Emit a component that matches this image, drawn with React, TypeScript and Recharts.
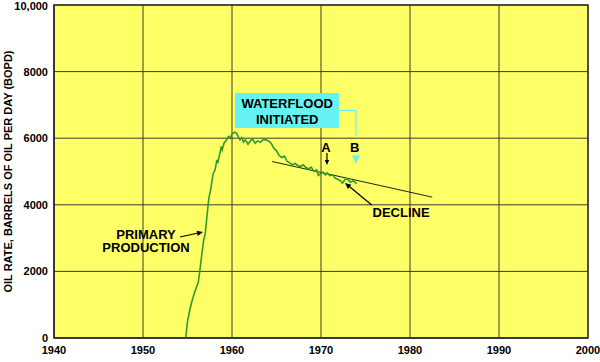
import React from 'react';
import {
  LineChart,
  Line,
  XAxis,
  YAxis,
  CartesianGrid,
  ReferenceLine,
  ReferenceArea,
  ReferenceDot,
} from 'recharts';

// oil rate history (BOPD)
const years = [
  1954.8, 1955.0, 1955.3, 1955.6, 1955.9, 1956.1, 1956.2, 1956.4, 1956.6, 1956.8, 1957.0,
  1957.2, 1957.4, 1957.6, 1957.8, 1957.9, 1958.1, 1958.3, 1958.4, 1958.6, 1958.8,
  1958.9, 1959.1, 1959.4, 1959.6, 1959.8, 1960.0, 1960.3, 1960.5, 1960.7, 1960.9,
  1961.1, 1961.3, 1961.5, 1961.8, 1962.0, 1962.3, 1962.6, 1962.9, 1963.2, 1963.5,
  1963.8, 1964.1, 1964.4, 1964.7, 1965.0, 1965.3, 1965.6, 1965.9, 1966.2, 1966.5,
  1966.8, 1967.1, 1967.4, 1967.7, 1968.0, 1968.3, 1968.6, 1968.9, 1969.2, 1969.5,
  1969.7, 1969.9, 1970.2, 1970.5, 1970.7, 1971.0, 1971.3, 1971.6, 1971.9, 1972.2,
  1972.4, 1972.7, 1973.0, 1973.3, 1973.6, 1973.9, 1974.0,
];
const rates = [
  0, 500, 900, 1200, 1450, 1600, 1650, 2050, 2500, 2900, 3150,
  3700, 4200, 4450, 4800, 4950, 5050, 5350, 5250, 5500, 5750,
  5650, 5850, 5950, 6050, 6000, 6120, 6180, 6150, 6050, 5950,
  6020, 5880, 5950, 5820, 5900, 5980, 5850, 5920, 5880, 5960,
  5950, 5920, 5850, 5700, 5620, 5480, 5420, 5460, 5300, 5260,
  5200, 5240, 5180, 5150, 5200, 5120, 5080, 5130, 5000, 5050,
  4880, 4920, 4980, 4900, 4960, 4880, 4900, 4800, 4760, 4720,
  4650, 4760, 4780, 4680, 4720, 4660, 4630,
];

// straight decline trend
const declineYears = [1964.5, 1982.5];
const declineRates = [5300, 4230];

const xTicks = [1940, 1950, 1960, 1970, 1980, 1990, 2000];
const yTicks = [0, 2000, 4000, 6000, 8000, 10000];

const production = years.map((year, i) => ({ year, rate: rates[i] }));
const decline = declineYears.map((year, i) => ({ year, rate: declineRates[i] }));

const FONT = '"Liberation Sans", Arial, Helvetica, sans-serif';
const CYAN = '#66F2F2';

const arrowShape = (color: string, head = 6) => (props: any) => {
  const { x1, y1, x2, y2 } = props;
  const a = Math.atan2(y2 - y1, x2 - x1);
  const w = head * 0.45;
  const bx = x2 - head * Math.cos(a);
  const by = y2 - head * Math.sin(a);
  const pts = [
    `${x2},${y2}`,
    `${bx + w * Math.sin(a)},${by - w * Math.cos(a)}`,
    `${bx - w * Math.sin(a)},${by + w * Math.cos(a)}`,
  ].join(' ');
  return (
    <g>
      <line x1={x1} y1={y1} x2={bx} y2={by} stroke={color} strokeWidth={1.2} />
      <polygon points={pts} fill={color} />
    </g>
  );
};

const plainLine = (color: string) => (props: any) => (
  <line x1={props.x1} y1={props.y1} x2={props.x2} y2={props.y2} stroke={color} strokeWidth={1.2} />
);

const textShape = (value: string) => (p: any) => (
  <text
    x={p.cx}
    y={p.cy}
    textAnchor="middle"
    dominantBaseline="central"
    fontFamily={FONT}
    fontWeight="bold"
    fontSize={13}
    fill="#000"
  >
    {value}
  </text>
);

const cyanHead = (p: any) => (
  <polygon
    points={`${p.cx - 4},${p.cy - 4} ${p.cx + 4},${p.cy - 4} ${p.cx},${p.cy + 4}`}
    fill={CYAN}
  />
);

const YTitle = ({ viewBox }: any) => {
  const cx = 8;
  const cy = viewBox.y + viewBox.height / 2;
  return (
    <text
      x={cx}
      y={cy}
      transform={`rotate(-90 ${cx} ${cy})`}
      textAnchor="middle"
      dominantBaseline="central"
      fontFamily={FONT}
      fontWeight="bold"
      fontSize={11}
      fill="#000"
    >
      OIL RATE, BARRELS OF OIL PER DAY (BOPD)
    </text>
  );
};

const tickStyle = { fontFamily: FONT, fontWeight: 'bold', fontSize: 11, fill: '#000' };

export default function App() {
  return (
    <div style={{ position: 'absolute', left: 0, top: 0, width: 600, height: 362, background: '#fff' }}>
      <LineChart width={600} height={362} margin={{ top: 5, right: 12, bottom: 0, left: 0 }}>
        <CartesianGrid stroke="#3a3a30" fill="#FFFF66" fillOpacity={1} />
        <XAxis
          type="number"
          dataKey="year"
          domain={[1940, 2000]}
          ticks={xTicks}
          allowDataOverflow
          height={24}
          tickLine={false}
          tickSize={6}
          tickMargin={2}
          axisLine={{ stroke: '#333', strokeWidth: 1.5 }}
          tick={tickStyle}
        />
        <YAxis
          type="number"
          dataKey="rate"
          domain={[0, 10000]}
          ticks={yTicks}
          allowDataOverflow
          width={54}
          tickLine={false}
          tickSize={6}
          tickMargin={0}
          axisLine={{ stroke: '#333', strokeWidth: 1.5 }}
          tick={tickStyle}
          tickFormatter={(v: number) => (v === 10000 ? '10,000' : String(v))}
          label={<YTitle />}
        />
        <ReferenceArea
          x1={1940}
          x2={2000}
          y1={0}
          y2={10000}
          fill="none"
          stroke="#333"
          strokeWidth={1.5}
        />

        {/* waterflood box and connector */}
        <ReferenceArea
          x1={1960.34}
          x2={1972.02}
          y1={6306}
          y2={7357}
          fill={CYAN}
          fillOpacity={1}
          ifOverflow="visible"
        />
        <ReferenceDot x={1966.2} y={7030} r={1} ifOverflow="visible" shape={textShape('WATERFLOOD')} />
        <ReferenceDot x={1966.2} y={6550} r={1} ifOverflow="visible" shape={textShape('INITIATED')} />
        <ReferenceLine
          segment={[{ x: 1972.02, y: 6830 }, { x: 1973.93, y: 6830 }]}
          shape={plainLine(CYAN)}
          ifOverflow="visible"
        />
        <ReferenceLine
          segment={[{ x: 1973.93, y: 6830 }, { x: 1973.93, y: 6080 }]}
          shape={plainLine(CYAN)}
          ifOverflow="visible"
        />
        <ReferenceDot x={1973.93} y={5360} r={1} ifOverflow="visible" shape={cyanHead} />
        <ReferenceDot x={1973.8} y={5706} r={1} ifOverflow="visible" shape={textShape('B')} />

        {/* A marker */}
        <ReferenceDot x={1970.56} y={5706} r={1} ifOverflow="visible" shape={textShape('A')} />
        <ReferenceLine
          segment={[{ x: 1970.67, y: 5556 }, { x: 1970.67, y: 5195 }]}
          shape={arrowShape('#000', 5)}
          ifOverflow="visible"
        />

        {/* decline label */}
        <ReferenceDot x={1979.0} y={3754} r={1} ifOverflow="visible" shape={textShape('DECLINE')} />
        <ReferenceLine
          segment={[{ x: 1975.7, y: 3994 }, { x: 1972.7, y: 4655 }]}
          shape={arrowShape('#000')}
          ifOverflow="visible"
        />

        {/* primary production label */}
        <ReferenceDot x={1950.34} y={3123} r={1} ifOverflow="visible" shape={textShape('PRIMARY')} />
        <ReferenceDot x={1950.34} y={2703} r={1} ifOverflow="visible" shape={textShape('PRODUCTION')} />
        <ReferenceLine
          segment={[{ x: 1954.16, y: 3033 }, { x: 1956.74, y: 3183 }]}
          shape={arrowShape('#000')}
          ifOverflow="visible"
        />

        <Line
          data={decline}
          dataKey="rate"
          stroke="#222"
          strokeWidth={1}
          dot={false}
          isAnimationActive={false}
        />
        <Line
          data={production}
          dataKey="rate"
          type="linear"
          stroke="#2E9B2E"
          strokeWidth={1.6}
          dot={false}
          isAnimationActive={false}
        />
      </LineChart>
    </div>
  );
}
